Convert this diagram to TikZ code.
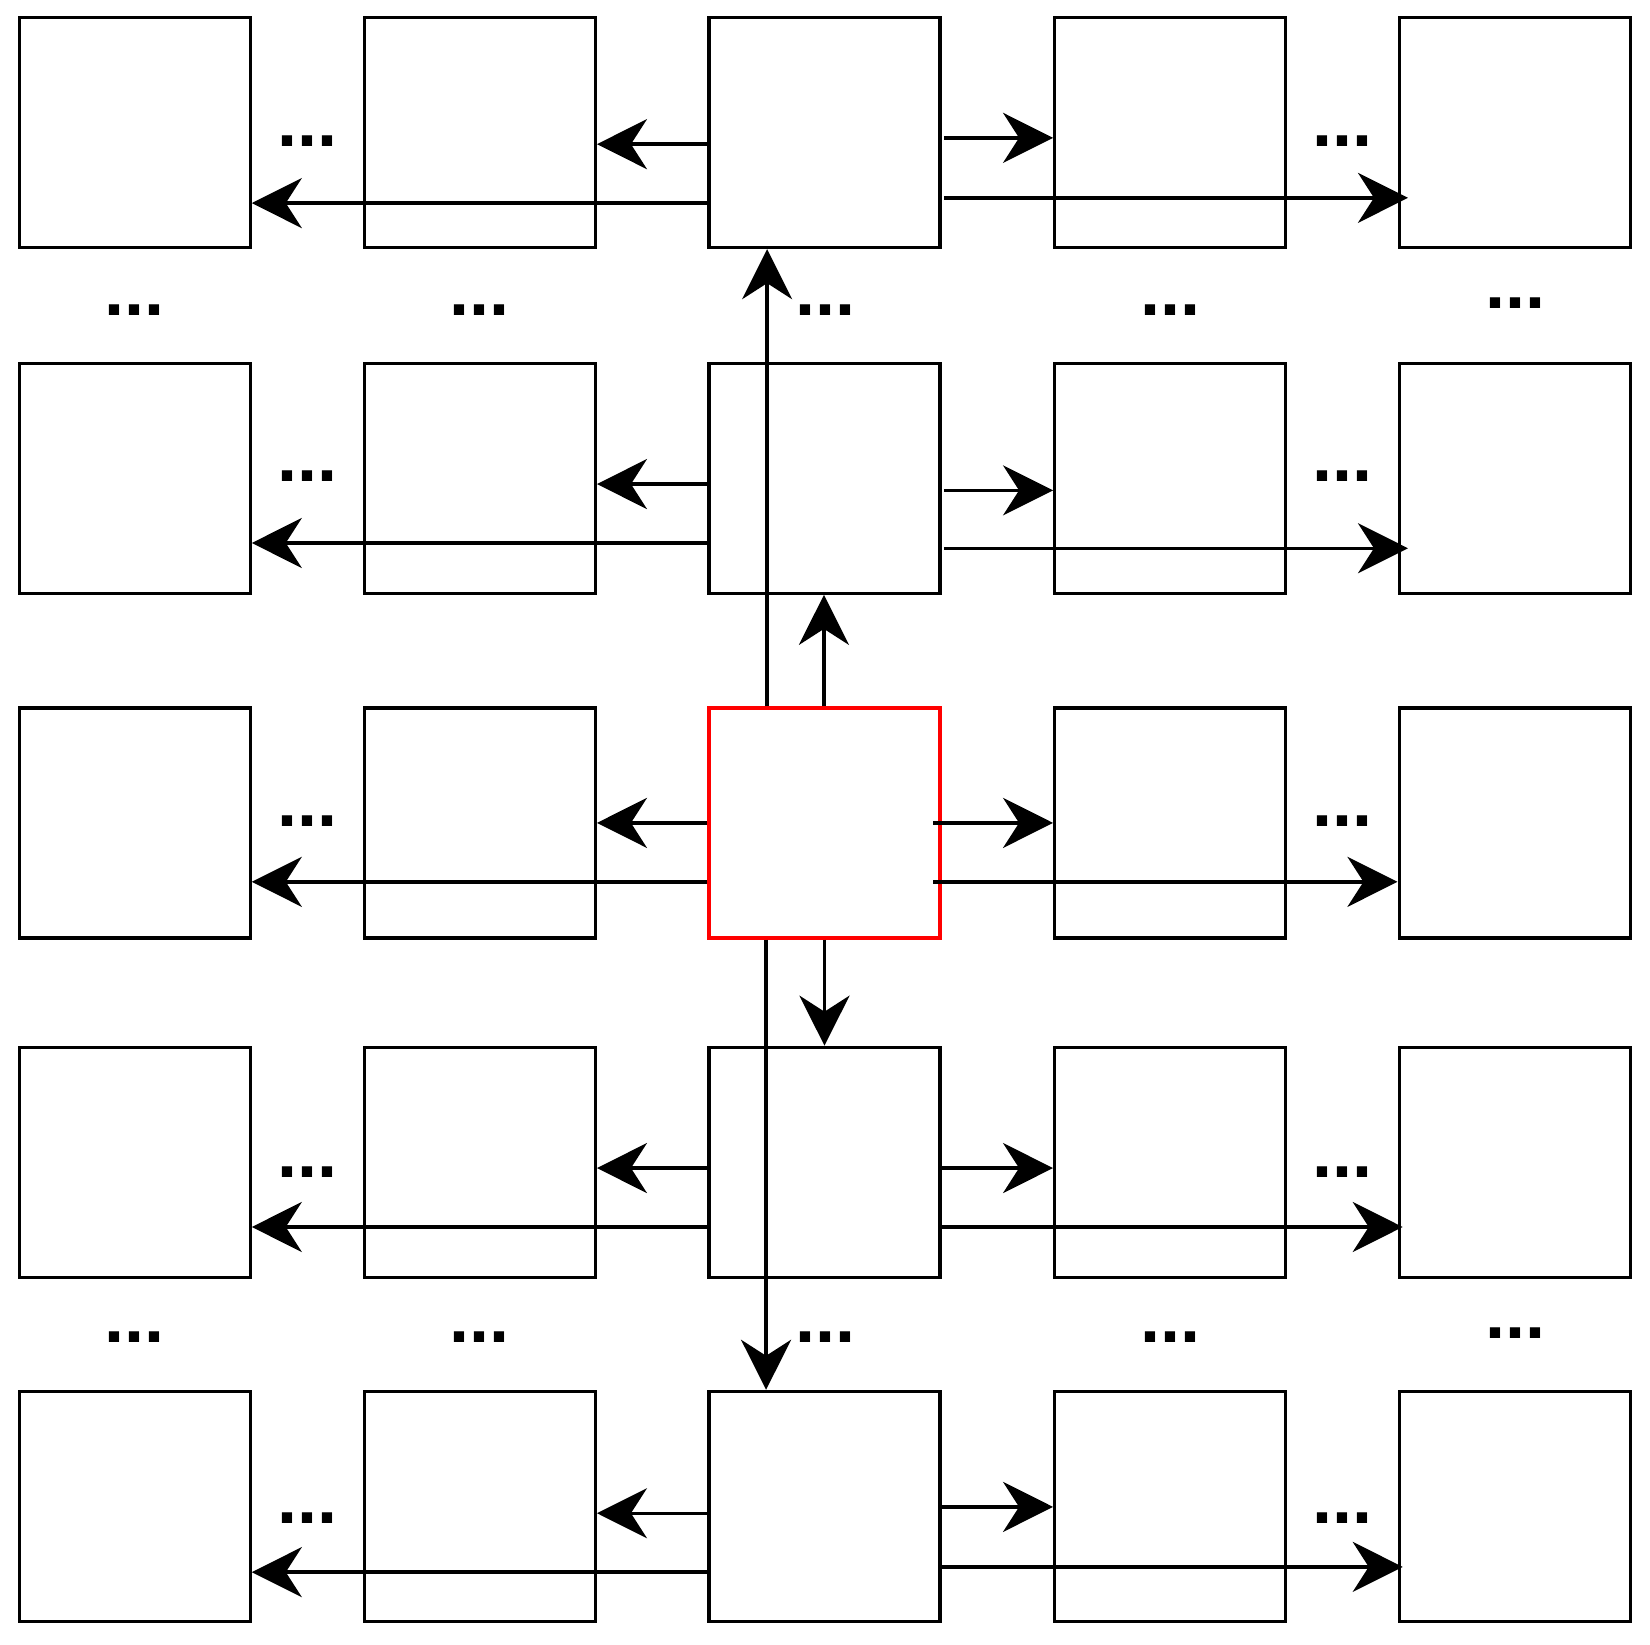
\documentclass[tikz,border=0pt]{standalone}
\usepackage{fontspec}
\setmainfont{Liberation Sans}
\usetikzlibrary{arrows.meta}
\begin{document}
\begin{tikzpicture}[x=1.0523pt,y=-1.0523pt,
  box/.style={draw=black,line width=3.2pt,minimum width=231pt,minimum height=230pt,inner sep=0pt,fill=white},
  arr/.style={line width=3.4pt,-{Stealth[length=50pt,width=50pt,inset=16pt]}},
  dots/.style={font=\fontsize{72}{72}\bfseries\selectfont,inner sep=0pt}]
\useasboundingbox (0,0) rectangle (1568,1562.3);
\foreach \c/\x in {1/128,2/456,3/783.5,4/1112,5/1440}{
  \foreach \r/\y in {1/126,2/454.5,3/782,4/1104.5,5/1431.5}{
    \node[box] (b\r\c) at (\x,\y) {};
  }}
\node[box,draw=red] (b33) at (783.5,782) {};
% dots
\foreach \y [count=\i] in {131,450,777,1111,1440}{
  \node[dots,anchor=base] (dl\i) at (292,\y+8) {...};
  \node[dots,anchor=base] (dr\i) at (1276,\y+8) {...};
}
\foreach \x [count=\i] in {128,456,784,1112}{
  \node[dots,anchor=base] (du\i) at (\x,300) {...};
  \node[dots,anchor=base] (dd\i) at (\x,1276) {...};
}
\node[dots,anchor=base] (du5) at (1440,293) {...};
\node[dots,anchor=base] (dd5) at (1440,1272) {...};
% horizontal arrows
\foreach \r/\ys/\yl/\yrs/\yrl/\rs/\re in {1/137/193/131/188/897/1338,2/460/516/466/521/897/1338,3/782/838/782/838/887/1328,4/1110/1166/1110/1166/893/1333,5/1438/1494/1432/1489/893/1333}{
  \draw[arr] (b\r3.west |- 0,\ys) -- (b\r2.east |- 0,\ys);
  \draw[arr] (b\r3.west |- 0,\yl) -- (b\r1.east |- 0,\yl);
  \draw[arr] (\rs,\yrs) -- (b\r4.west |- 0,\yrs);
  \draw[arr] (\rs,\yrl) -- (\re,\yrl);
}
% vertical arrows
\draw[arr] (b33.north -| 729,0) -- (b13.south -| 729,0);
\draw[arr] (b33.north -| 783,0) -- (b23.south -| 783,0);
\draw[arr] (b33.south -| 728,0) -- (b53.north -| 728,0);
\draw[arr] (b33.south -| 783.5,0) -- (b43.north -| 783.5,0);
\end{tikzpicture}
\end{document}
